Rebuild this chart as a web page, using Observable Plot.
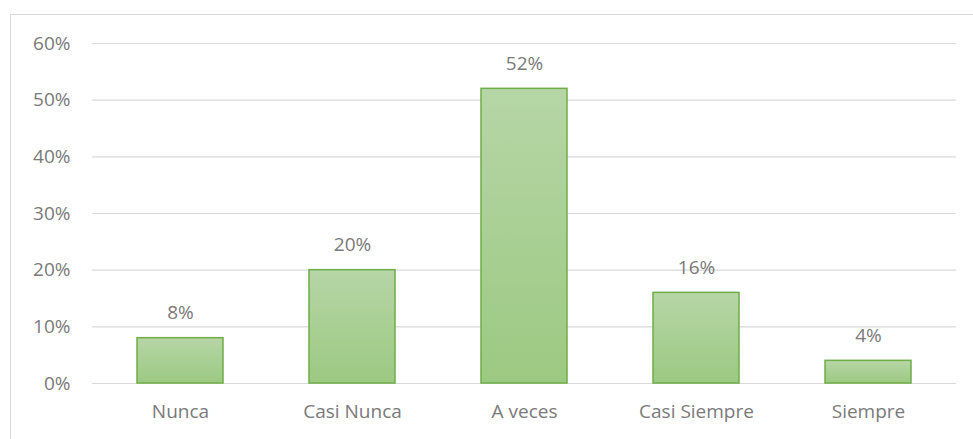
<!DOCTYPE html>
<html>
<head>
<meta charset="utf-8">
<script src="https://cdn.jsdelivr.net/npm/d3@7"></script>
<script src="https://cdn.jsdelivr.net/npm/@observablehq/plot@0.6"></script>
<style>
  html, body { margin: 0; padding: 0; background: #fff; }
  #wrap { position: relative; width: 973px; height: 439px; overflow: hidden; }
  #frame { position: absolute; left: 10px; top: 14px; width: 980px; height: 460px; border: 1px solid #d9d9d9; box-sizing: border-box; }
  #chart { position: absolute; left: 0; top: 0; }
</style>
</head>
<body>
<div id="wrap"><div id="frame"></div><div id="chart"></div></div>
<script>
const categories = ["Nunca", "Casi Nunca", "A veces", "Casi Siempre", "Siempre"];
const values = [0.08, 0.20, 0.52, 0.16, 0.04];
const yTicks = [0, 0.1, 0.2, 0.3, 0.4, 0.5, 0.6];

const data = categories.map((c, i) => ({category: c, value: values[i]}));
const fmt = d3.format(".0%");
const txt = "#7a7a7a";

const chart = Plot.plot({
  width: 973,
  height: 439,
  marginLeft: 92,
  marginRight: 17,
  marginTop: 43,
  marginBottom: 56,
  style: {fontFamily: "'Open Sans', sans-serif", fontSize: "19px", color: txt, background: "transparent"},
  x: {domain: categories, paddingInner: 0.5, paddingOuter: 0.25, label: null},
  y: {domain: [0, 0.6], label: null},
  marks: [
    () => {
      const ns = "http://www.w3.org/2000/svg";
      const defs = document.createElementNS(ns, "defs");
      defs.innerHTML = `<linearGradient id="barGrad" x1="0" y1="0" x2="0" y2="1">
        <stop offset="0%" stop-color="#b6d6a6"/>
        <stop offset="100%" stop-color="#9cc982"/>
      </linearGradient>`;
      return defs;
    },
    Plot.gridY(yTicks, {stroke: "#d9d9d9", strokeOpacity: 1, strokeWidth: 1.2}),
    Plot.axisY(yTicks, {tickFormat: fmt, tickSize: 0, tickPadding: 22, fill: txt, fontSize: 19}),
    Plot.axisX({tickSize: 0, tickPadding: 21, fill: txt, fontSize: 19}),
    Plot.barY(data, {x: "category", y: "value", fill: "url(#barGrad)", stroke: "#70ad47", strokeWidth: 1.5}),
    Plot.text(data, {x: "category", y: "value", text: d => fmt(d.value), dy: -25, fill: txt, fontSize: 19})
  ]
});
document.getElementById("chart").appendChild(chart);
</script>
</body>
</html>
